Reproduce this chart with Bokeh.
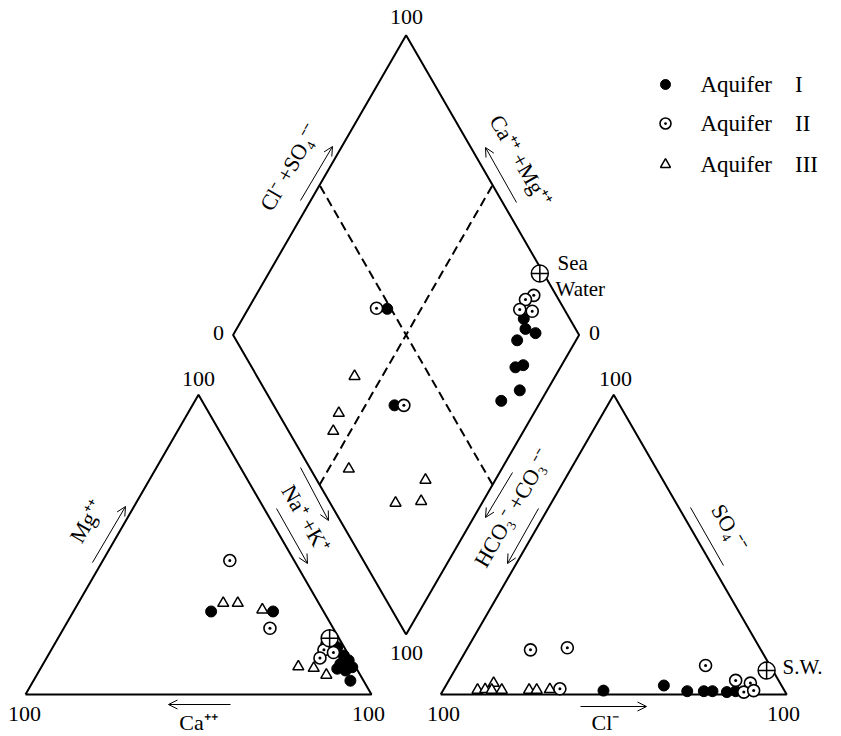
import numpy as np
from bokeh.plotting import figure
from bokeh.models import Range1d, Arrow, OpenHead
from bokeh.core.properties import value
from bokeh.embed import file_html
from bokeh.resources import INLINE

# ---------------- data (percent of meq) ----------------
# Cation triangle: Mg++ %, Na+ + K+ %  (Ca++ = 100 - Mg - NaK)
cat_I_mg = [27.7, 27.7, 4.6, 15.8, 13.0, 11.4, 10.2, 8.6, 9.1, 8.0]
cat_I_nak = [39.8, 57.7, 91.6, 82.2, 85.5, 87.7, 85.9, 85.8, 89.9, 88.5]
cat_II_mg = [44.7, 22.1, 16.9, 14.9, 12.2, 14.0]
cat_II_nak = [36.7, 59.6, 78.7, 78.8, 79.0, 82.0]
cat_III_mg = [30.5, 30.5, 28.3, 9.3, 8.8, 6.5]
cat_III_nak = [41.9, 46.1, 54.3, 74.2, 78.9, 83.7]
cat_SW_mg = [18.8]
cat_SW_nak = [78.5]

# Anion triangle: SO4-- %, Cl- %  (HCO3- + CO3-- = 100 - SO4 - Cl)
an_I_so4 = [1.3, 3.0, 1.1, 1.1, 1.1, 0.8, 1.1]
an_I_cl = [46.4, 63.0, 70.7, 75.5, 78.0, 82.3, 84.7]
an_II_so4 = [14.9, 15.6, 1.9, 9.7, 4.7, 3.8, 0.8, 1.3]
an_II_cl = [18.5, 28.8, 33.5, 71.7, 82.9, 87.6, 87.2, 89.8]
an_III_so4 = [1.5, 1.7, 3.8, 1.5, 1.5, 1.5, 1.5, 1.7]
an_III_cl = [9.9, 12.0, 13.4, 14.0, 16.9, 24.8, 27.0, 30.7]
an_SW_so4 = [8.0]
an_SW_cl = [90.2]

# Diamond: Ca++ + Mg++ %, Cl- + SO4-- %
dm_I_camg = [18.7, 16.5, 12.9, 17.0, 13.0, 11.1, 7.9, 11.5, 59.8, 41.6]
dm_I_clso4 = [86.7, 85.5, 87.7, 81.2, 76.2, 78.8, 73.6, 66.5, 48.9, 34.9]
dm_II_camg = [19.7, 21.4, 21.4, 17.5, 63.0, 38.9]
dm_II_clso4 = [93.5, 90.4, 87.1, 90.4, 45.9, 37.6]
dm_III_camg = [58.0, 56.4, 55.0, 44.2, 20.2, 25.0, 17.9]
dm_III_clso4 = [28.2, 17.5, 12.9, 11.1, 31.4, 18.9, 26.6]
dm_SW_camg = [21.6]
dm_SW_clso4 = [98.9]

legend_labels = ["Aquifer\u2003I", "Aquifer\u2003II", "Aquifer\u2003III"]

# ---------------- geometry ----------------
G = 20.0                    # gap between triangles (same units as triangle side = 100)
R3 = np.sqrt(3) / 2
S = 3.46                    # pixels per unit
W, H = 840, 735
X0PX, Y0PX = 25.0, 694.0    # page pixel of the cation triangle's lower-left corner


def px(X, Y):
    return (X - X0PX) / S, (Y0PX - Y) / S


def cation_xy(mg, nak):
    mg = np.asarray(mg, float); nak = np.asarray(nak, float)
    return nak + mg / 2, mg * R3


def anion_xy(so4, cl):
    so4 = np.asarray(so4, float); cl = np.asarray(cl, float)
    return 100 + G + cl + so4 / 2, so4 * R3


def diamond_xy(camg, clso4):
    a = np.asarray(clso4, float) / 100; c = np.asarray(camg, float) / 100
    return 100 + G / 2 + 50 * (a - c), G * R3 + 100 * R3 * (a + c)


def combine(*pairs):
    xs = np.concatenate([p[0] for p in pairs]); ys = np.concatenate([p[1] for p in pairs])
    return xs, ys


x_lo, y_hi = px(0, 0)
p = figure(width=W, height=H, x_range=Range1d(x_lo, x_lo + W / S), y_range=Range1d(y_hi - H / S, y_hi),
           output_backend="svg", toolbar_location=None, min_border=0,
           x_axis_location=None, y_axis_location=None)
p.grid.visible = False
p.outline_line_color = None
p.background_fill_color = "white"
p.border_fill_color = "white"

FONT = value("Liberation Serif")

# outlines
p.line([0, 100, 50, 0], [0, 0, 100 * R3, 0], line_color="black", line_width=2)
p.line([100 + G, 200 + G, 150 + G, 100 + G], [0, 0, 100 * R3, 0], line_color="black", line_width=2)
dx, dy = diamond_xy([0, 0, 100, 100, 0], [0, 100, 100, 0, 0])
p.line(dx, dy, line_color="black", line_width=2)
# 50 % dashed lines in the diamond
lx, ly = diamond_xy([0, 100], [50, 50])
p.line(lx, ly, line_color="black", line_width=2, line_dash="9 5")
lx, ly = diamond_xy([50, 50], [0, 100])
p.line(lx, ly, line_color="black", line_width=2, line_dash="9 5")

# points
xI, yI = combine(cation_xy(cat_I_mg, cat_I_nak), anion_xy(an_I_so4, an_I_cl), diamond_xy(dm_I_camg, dm_I_clso4))
xII, yII = combine(cation_xy(cat_II_mg, cat_II_nak), anion_xy(an_II_so4, an_II_cl), diamond_xy(dm_II_camg, dm_II_clso4))
xIII, yIII = combine(cation_xy(cat_III_mg, cat_III_nak), anion_xy(an_III_so4, an_III_cl), diamond_xy(dm_III_camg, dm_III_clso4))
xSW, ySW = combine(cation_xy(cat_SW_mg, cat_SW_nak), anion_xy(an_SW_so4, an_SW_cl), diamond_xy(dm_SW_camg, dm_SW_clso4))

styles = {
    "I": dict(marker="circle", size=11, fill_color="black", line_color="black", line_width=1),
    "II": dict(marker="circle_dot", size=12, fill_color="white", line_color="black", line_width=1.6),
    "III": dict(marker="triangle", size=11, fill_color="white", line_color="black", line_width=1.5),
    "SW": dict(marker="circle_cross", size=17, fill_color="white", line_color="black", line_width=1.5),
}
p.scatter(xIII, yIII, **styles["III"])
p.scatter(xI, yI, **styles["I"])
p.scatter(xII, yII, **styles["II"])
p.scatter(xSW, ySW, **styles["SW"])

# legend (manual)
leg_pos = [(665, 84), (665, 123), (665, 164)]
for (lxp, lyp), key, lab in zip(leg_pos, ["I", "II", "III"], legend_labels):
    mx, my = px(lxp, lyp)
    st = dict(styles[key]); st["size"] = st["size"] - 1
    p.scatter([mx], [my], **st)
    tx, ty = px(lxp + 35, lyp)
    p.text([tx], [ty], text=[lab], text_font=FONT, text_font_size="23px",
           text_align="left", text_baseline="middle", text_color="black")

# scale end labels
hundred = [(406, 16), (406, 652), (198, 378), (24, 713), (368, 713), (615, 378), (443, 713), (783, 713)]
zeros = [(218, 332), (594, 332)]
tl = [px(*q) for q in hundred] + [px(*q) for q in zeros]
p.text([q[0] for q in tl], [q[1] for q in tl], text=["100"] * len(hundred) + ["0"] * len(zeros),
       text_font=FONT, text_font_size="22px", text_align="center", text_baseline="middle", text_color="black")

# axis titles
A60 = np.pi / 3
titles = [
    ("Mg\u207a\u207a", (86, 521), A60),
    ("Na\u207a +K\u207a", (305, 518), -A60),
    ("Ca\u207a\u207a", (198, 722), 0.0),
    ("Cl\u207b", (605, 722), 0.0),
    ("Cl\u207b +SO\u2084\u207b\u207b", (289, 167), A60),
    ("Ca\u207a\u207a +Mg\u207a\u207a", (520, 160), -A60),
    ("HCO\u2083\u207b +CO\u2083\u207b\u207b", (512, 508), A60),
    ("SO\u2084\u207b\u207b", (729, 527), -A60),
]
tp = [px(*t[1]) for t in titles]
p.text([q[0] for q in tp], [q[1] for q in tp], text=[t[0] for t in titles], angle=[t[2] for t in titles],
       text_font=FONT, text_font_size="22px", text_align="center", text_baseline="middle", text_color="black")

# sea water labels
sw = [("Sea", (557, 262)), ("Water", (555, 288)), ("S.W.", (782, 666))]
sp = [px(*s[1]) for s in sw]
p.text([q[0] for q in sp], [q[1] for q in sp], text=[s[0] for s in sw], text_font=FONT, text_font_size="21px",
       text_align="left", text_baseline="middle", text_color="black")

# arrows along axes
arrows = [
    ((92, 562), (125, 506)),
    ((300, 467), (328, 520)),
    ((276, 508), (307, 563)),
    ((230, 704), (168, 704)),
    ((580, 706), (646, 706)),
    ((300, 200), (332, 146)),
    ((516, 202), (485, 147)),
    ((512, 472), (485, 517)),
    ((538, 508), (507, 563)),
]
for s0, s1 in arrows:
    xs0, ys0 = px(*s0); xs1, ys1 = px(*s1)
    p.add_layout(Arrow(end=OpenHead(size=9, line_width=1, line_color="black"),
                       x_start=xs0, y_start=ys0, x_end=xs1, y_end=ys1, line_width=1, line_color="black"))
sx0, sy0 = px(690, 507); sx1, sy1 = px(723, 565)
p.line([sx0, sx1], [sy0, sy1], line_color="black", line_width=1)

open("out.html", "w").write(file_html(p, INLINE))
